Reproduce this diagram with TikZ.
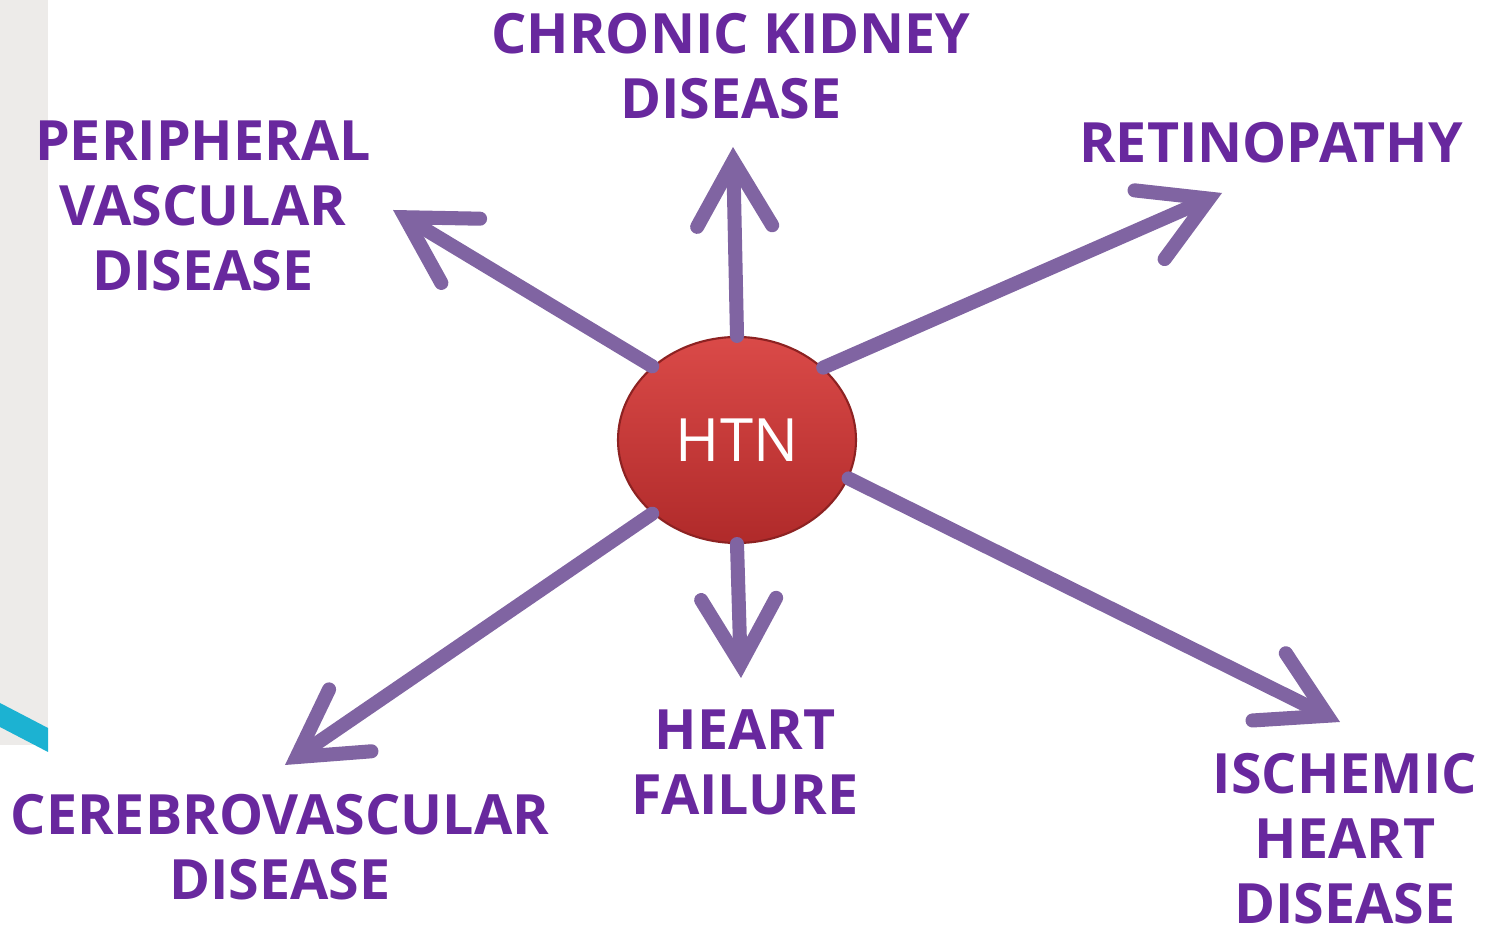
\documentclass[tikz,border=0pt]{standalone}
\usepackage{fontspec}
\usepackage{tikz}
\usetikzlibrary{arrows.meta,shapes.geometric}
\newfontfamily\labelfont{Open Sans}
\definecolor{htnPurple}{RGB}{104,40,158}
\definecolor{arrowLilac}{RGB}{128,100,162}
\definecolor{htnRedTop}{RGB}{218,74,72}
\definecolor{htnRedBot}{RGB}{176,42,42}
\definecolor{sideGrey}{RGB}{237,235,233}
\definecolor{sideCyan}{RGB}{28,178,210}

\begin{document}
\begin{tikzpicture}[
  x=0.1mm, y=-0.1mm,
  every node/.style={inner sep=0pt},
  disease/.style={
    text=htnPurple,
    font=\labelfont\bfseries\fontsize{15.8}{18.5}\selectfont,
    align=center
  },
  hub/.style={
    ellipse,
    minimum width=23.8mm,
    minimum height=20.6mm,
    top color=htnRedTop,
    bottom color=htnRedBot,
    draw=htnRedBot!80!black,
    line width=0.6pt,
    text=white,
    font=\labelfont\fontsize{17}{20}\selectfont
  },
  link/.style={
    draw=arrowLilac,
    line width=4pt,
    line cap=round,
    -{Straight Barb[length=6.5mm,width=7.5mm,line cap=round,line join=miter]}
  }
]
  \useasboundingbox (0,0) rectangle (1488,947);

  % slide edge on the left
  \fill[sideGrey] (0,0) rectangle (48,745);
  \fill[sideCyan] (0,703) -- (48,728) -- (48,752) -- (0,727) -- cycle;

  \node[hub] (htn) at (737,440) {HTN};

  \node[disease] (ckd) at (731,66) {CHRONIC KIDNEY\\DISEASE};
  \node[disease] (pvd) at (203,206) {PERIPHERAL\\VASCULAR\\DISEASE};
  \node[disease] (ret) at (1271,143) {RETINOPATHY};
  \node[disease] (hf) at (745,762) {HEART\\FAILURE};
  \node[disease] (cvd) at (280,847) {CEREBROVASCULAR\\DISEASE};
  \node[disease] (ihd) at (1345,839) {ISCHEMIC\\HEART\\DISEASE};

  \coordinate (ckdTip) at (733,147);
  \coordinate (pvdTip) at (393,210);
  \coordinate (retTip) at (1222,193);
  \coordinate (hfTip) at (741,678);
  \coordinate (cvdTip) at (285,765);
  \coordinate (ihdTip) at (1340,722);

  \draw[link] (htn.90) -- (ckdTip);
  \draw[link] (htn.139) -- (pvdTip);
  \draw[link] (htn.40) -- (retTip);
  \draw[link] (htn.-90) -- (hfTip);
  \draw[link] (htn.221) -- (cvdTip);
  \draw[link] (htn.-19) -- (ihdTip);
\end{tikzpicture}
\end{document}
